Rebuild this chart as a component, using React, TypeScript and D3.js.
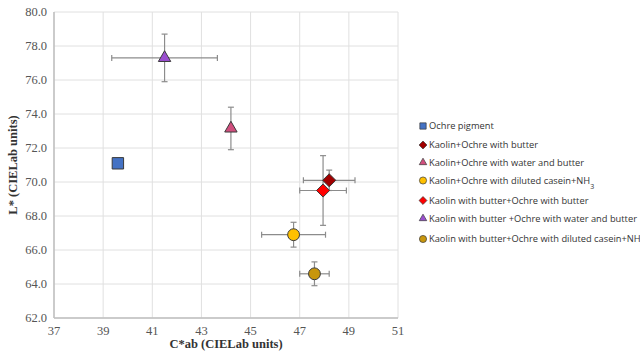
import React from "react";
import * as d3 from "d3";

const seriesNames = [
  "Ochre pigment",
  "Kaolin+Ochre with butter",
  "Kaolin+Ochre with water and butter",
  "Kaolin+Ochre with diluted casein+NH",
  "Kaolin with butter+Ochre with butter",
  "Kaolin with butter +Ochre with water and butter",
  "Kaolin with butter+Ochre with diluted casein+NH",
];
const subscripts = ["", "", "", "3", "", "", ""];
const cValues = [39.6, 48.2, 44.2, 46.75, 47.95, 41.5, 47.6];
const lValues = [71.1, 70.1, 73.15, 66.9, 69.5, 77.3, 64.6];
const cErrors = [0, 1.05, 0, 1.3, 0.95, 2.15, 0.6];
const lErrors = [0, 0.6, 1.25, 0.73, 2.05, 1.4, 0.7];
const shapes = ["square", "diamond", "triangle", "circle", "diamond", "triangle", "circle"];
const colors = ["#4472C4", "#A00000", "#D14F7E", "#FFC000", "#FF0000", "#9B4FD0", "#C8960C"];
const xTicks = [37, 39, 41, 43, 45, 47, 49, 51];
const yTicks = [62, 64, 66, 68, 70, 72, 74, 76, 78, 80];

const W = 640, H = 357;
const plot = { left: 54, right: 398, top: 12, bottom: 318 };

function symbolPath(shape: string, size: number) {
  const t =
    shape === "square" ? d3.symbolSquare :
    shape === "diamond" ? d3.symbolDiamond2 :
    shape === "triangle" ? d3.symbolTriangle2 : d3.symbolCircle;
  return d3.symbol(t as any, size)() as string;
}

export default function App() {
  const x = d3.scaleLinear().domain([37, 51]).range([plot.left, plot.right]);
  const y = d3.scaleLinear().domain([62, 80]).range([plot.bottom, plot.top]);
  const sizes: Record<string, number> = { square: 130, diamond: 110, triangle: 110, circle: 110 };
  const legendSizes: Record<string, number> = { square: 40, diamond: 40, triangle: 40, circle: 40 };
  const legendY = [126, 145, 162.5, 180.5, 200.5, 218.5, 239];
  const serif = "'Liberation Serif', 'Times New Roman', serif";
  const cap = 3;
  return (
    <svg width={W} height={H} style={{ position: "absolute", left: 0, top: 0, background: "#fff" }}>
      <rect width={W} height={H} fill="#fff" />
      {xTicks.map((t) => (
        <line key={"gx" + t} x1={x(t)} x2={x(t)} y1={plot.top} y2={plot.bottom} stroke="#e0e0e0" strokeWidth={1} />
      ))}
      {yTicks.map((t) => (
        <line key={"gy" + t} x1={plot.left} x2={plot.right} y1={y(t)} y2={y(t)} stroke="#e0e0e0" strokeWidth={1} />
      ))}
      <line x1={plot.left} x2={plot.left} y1={plot.top} y2={plot.bottom} stroke="#bfbfbf" strokeWidth={1.5} />
      <line x1={plot.left} x2={plot.right} y1={plot.bottom} y2={plot.bottom} stroke="#bfbfbf" strokeWidth={1.5} />
      {yTicks.map((t) => (
        <text key={"ty" + t} x={plot.left - 7} y={y(t)} dy="0.35em" textAnchor="end" fontFamily={serif} fontSize={12.5} fill="#555">
          {t.toFixed(1)}
        </text>
      ))}
      {xTicks.map((t) => (
        <text key={"tx" + t} x={x(t)} y={335} textAnchor="middle" fontFamily={serif} fontSize={12.5} fill="#555">
          {t}
        </text>
      ))}
      <text x={(plot.left + plot.right) / 2} y={348} textAnchor="middle" fontFamily={serif} fontSize={12.5} fontWeight="bold" fill="#333">
        C*ab (CIELab units)
      </text>
      <text transform={`translate(17,${(plot.top + plot.bottom) / 2}) rotate(-90)`} textAnchor="middle" fontFamily={serif} fontSize={12.5} fontWeight="bold" fill="#333">
        L* (CIELab units)
      </text>
      {cValues.map((c, i) => {
        const cx = x(c), cy = y(lValues[i]);
        return (
          <g key={"eb" + i} stroke="#8c8c8c" strokeWidth={1.2}>
            {cErrors[i] > 0 && (
              <>
                <line x1={x(c - cErrors[i])} x2={x(c + cErrors[i])} y1={cy} y2={cy} />
                <line x1={x(c - cErrors[i])} x2={x(c - cErrors[i])} y1={cy - cap} y2={cy + cap} />
                <line x1={x(c + cErrors[i])} x2={x(c + cErrors[i])} y1={cy - cap} y2={cy + cap} />
              </>
            )}
            {lErrors[i] > 0 && (
              <>
                <line x1={cx} x2={cx} y1={y(lValues[i] - lErrors[i])} y2={y(lValues[i] + lErrors[i])} />
                <line x1={cx - cap} x2={cx + cap} y1={y(lValues[i] - lErrors[i])} y2={y(lValues[i] - lErrors[i])} />
                <line x1={cx - cap} x2={cx + cap} y1={y(lValues[i] + lErrors[i])} y2={y(lValues[i] + lErrors[i])} />
              </>
            )}
          </g>
        );
      })}
      {cValues.map((c, i) => (
        <path
          key={"pt" + i}
          d={symbolPath(shapes[i], sizes[shapes[i]])}
          transform={`translate(${x(c)},${y(lValues[i])})`}
          fill={colors[i]}
          stroke="#3a3a3a"
          strokeWidth={1}
        />
      ))}
      {seriesNames.map((name, i) => (
        <g key={"lg" + i} transform={`translate(423,${legendY[i]})`}>
          <path d={symbolPath(shapes[i], legendSizes[shapes[i]])} fill={colors[i]} stroke="#3a3a3a" strokeWidth={0.7} />
          <text x={6} y={0} dy="0.35em" fontFamily="'Open Sans', sans-serif" fontSize={9.3} fill="#333">
            {name}
            {subscripts[i] && (
              <tspan baselineShift="sub" fontSize={7}>{subscripts[i]}</tspan>
            )}
          </text>
        </g>
      ))}
    </svg>
  );
}
